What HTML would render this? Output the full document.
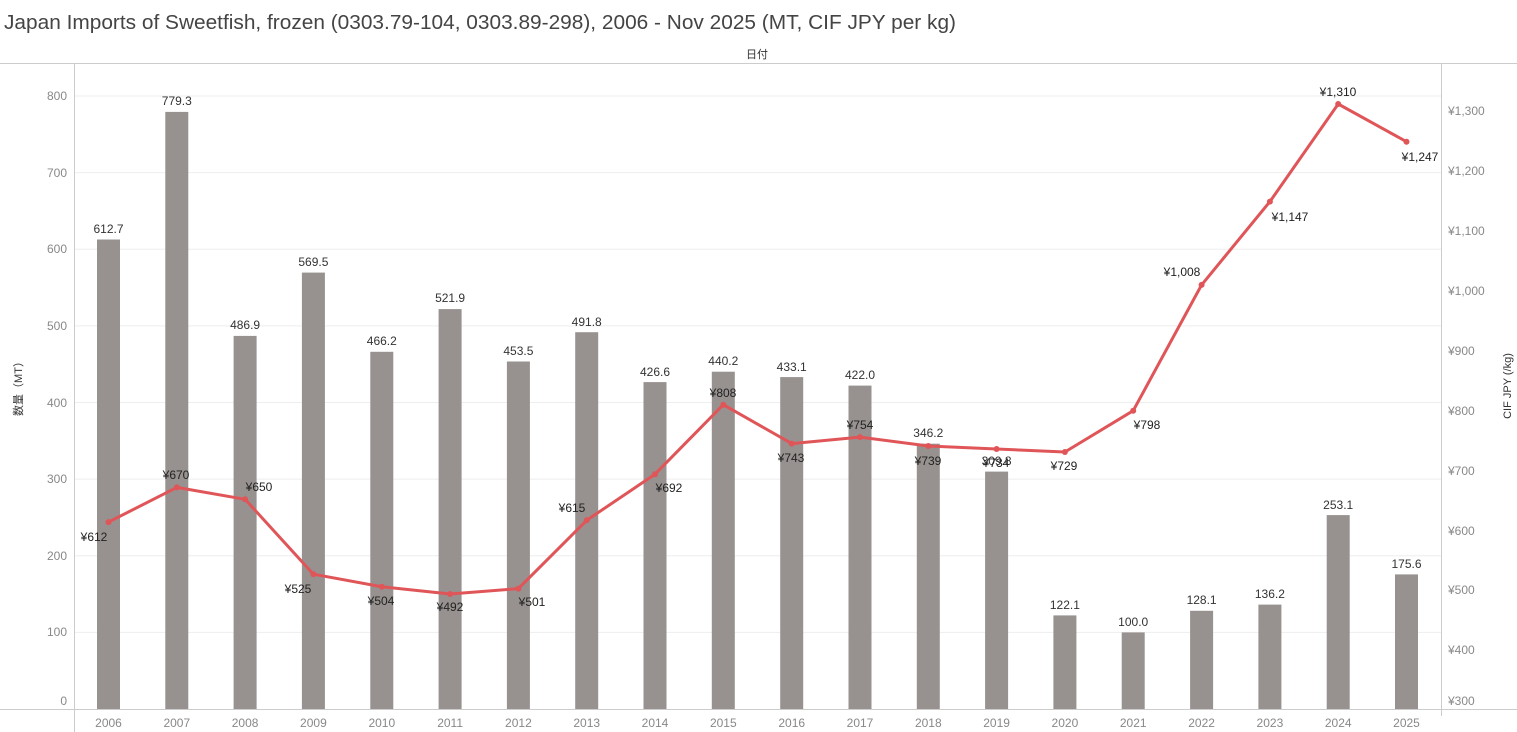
<!DOCTYPE html>
<html><head><meta charset="utf-8"><style>
body{margin:0;background:#fff;width:1517px;height:732px;overflow:hidden}
svg{display:block;font-family:"Liberation Sans","Noto Sans CJK JP",sans-serif}
.t{font-size:12px;fill:#888}
.b{font-size:12px;fill:#333;text-anchor:middle}
.p{font-size:12px;fill:#222;text-anchor:middle}
</style></head><body>
<svg width="1517" height="732" viewBox="0 0 1517 732">
<text x="4" y="29" textLength="952" lengthAdjust="spacingAndGlyphs" style="font-size:20px;fill:#444">Japan Imports of Sweetfish, frozen (0303.79-104, 0303.89-298), 2006 - Nov 2025 (MT, CIF JPY per kg)</text>
<text x="757" y="58" style="font-size:11px;fill:#333;text-anchor:middle">日付</text>
<line x1="0" y1="63.5" x2="1517" y2="63.5" stroke="#ccc"/>
<line x1="0" y1="709.5" x2="1517" y2="709.5" stroke="#ccc"/>
<line x1="74.5" y1="63" x2="74.5" y2="732" stroke="#ccc"/>
<line x1="1441.5" y1="63" x2="1441.5" y2="716" stroke="#ccc"/>
<g stroke="#eee">
<line x1="75" x2="1441" y1="96" y2="96"/><line x1="75" x2="1441" y1="172.6" y2="172.6"/>
<line x1="75" x2="1441" y1="249.3" y2="249.3"/><line x1="75" x2="1441" y1="325.9" y2="325.9"/>
<line x1="75" x2="1441" y1="402.5" y2="402.5"/><line x1="75" x2="1441" y1="479.1" y2="479.1"/>
<line x1="75" x2="1441" y1="555.8" y2="555.8"/><line x1="75" x2="1441" y1="632.4" y2="632.4"/>
</g>
<g class="t" text-anchor="end">
<text x="67" y="100">800</text><text x="67" y="177">700</text><text x="67" y="253">600</text>
<text x="67" y="330">500</text><text x="67" y="407">400</text><text x="67" y="483">300</text>
<text x="67" y="560">200</text><text x="67" y="636">100</text><text x="67" y="705">0</text>
</g>
<g class="t">
<text x="1448" y="115">¥1,300</text><text x="1448" y="175">¥1,200</text><text x="1448" y="235">¥1,100</text>
<text x="1448" y="295">¥1,000</text><text x="1448" y="355">¥900</text><text x="1448" y="415">¥800</text>
<text x="1448" y="475">¥700</text><text x="1448" y="535">¥600</text><text x="1448" y="594">¥500</text>
<text x="1448" y="654">¥400</text><text x="1448" y="705">¥300</text>
</g>
<text transform="translate(22,386) rotate(-90)" style="font-size:11px;fill:#333;text-anchor:middle">数量（MT）</text>
<text transform="translate(1511,386) rotate(-90)" style="font-size:11px;fill:#333;text-anchor:middle">CIF JPY (/kg)</text>
<g fill="#979290">
<rect x="97" y="239.5" width="23" height="469.5"/><rect x="165.3" y="111.9" width="23" height="597.1"/>
<rect x="233.6" y="335.9" width="23" height="373.1"/><rect x="301.9" y="272.6" width="23" height="436.4"/>
<rect x="370.3" y="351.8" width="23" height="357.2"/><rect x="438.6" y="309.1" width="23" height="399.9"/>
<rect x="506.9" y="361.5" width="23" height="347.5"/><rect x="575.2" y="332.2" width="23" height="376.8"/>
<rect x="643.5" y="382.1" width="23" height="326.9"/><rect x="711.8" y="371.7" width="23" height="337.3"/>
<rect x="780.2" y="377.1" width="23" height="331.9"/><rect x="848.5" y="385.6" width="23" height="323.4"/>
<rect x="916.8" y="443.7" width="23" height="265.3"/><rect x="985.1" y="471.6" width="23" height="237.4"/>
<rect x="1053.4" y="615.4" width="23" height="93.6"/><rect x="1121.7" y="632.4" width="23" height="76.6"/>
<rect x="1190.1" y="610.8" width="23" height="98.2"/><rect x="1258.4" y="604.6" width="23" height="104.4"/>
<rect x="1326.7" y="515.1" width="23" height="193.9"/><rect x="1395" y="574.4" width="23" height="134.6"/>
</g>
<g class="b">
<text x="108.5" y="233">612.7</text><text x="176.8" y="105">779.3</text><text x="245.1" y="329">486.9</text>
<text x="313.4" y="266">569.5</text><text x="381.8" y="345">466.2</text><text x="450.1" y="302">521.9</text>
<text x="518.4" y="355">453.5</text><text x="586.7" y="326">491.8</text><text x="655" y="376">426.6</text>
<text x="723.3" y="365">440.2</text><text x="791.7" y="371">433.1</text><text x="860" y="379">422.0</text>
<text x="928.3" y="437">346.2</text><text x="996.6" y="465">309.8</text><text x="1064.9" y="609">122.1</text>
<text x="1133.2" y="626">100.0</text><text x="1201.6" y="604">128.1</text><text x="1269.9" y="598">136.2</text>
<text x="1338.2" y="509">253.1</text><text x="1406.5" y="568">175.6</text>
</g>
<g class="t" text-anchor="middle">
<text x="108.5" y="727">2006</text><text x="176.8" y="727">2007</text><text x="245.1" y="727">2008</text>
<text x="313.4" y="727">2009</text><text x="381.8" y="727">2010</text><text x="450.1" y="727">2011</text>
<text x="518.4" y="727">2012</text><text x="586.7" y="727">2013</text><text x="655" y="727">2014</text>
<text x="723.3" y="727">2015</text><text x="791.7" y="727">2016</text><text x="860" y="727">2017</text>
<text x="928.3" y="727">2018</text><text x="996.6" y="727">2019</text><text x="1064.9" y="727">2020</text>
<text x="1133.2" y="727">2021</text><text x="1201.6" y="727">2022</text><text x="1269.9" y="727">2023</text>
<text x="1338.2" y="727">2024</text><text x="1406.5" y="727">2025</text>
</g>
<polyline fill="none" stroke="#e05558" stroke-width="3" stroke-linejoin="round" points="108.5,522.1 176.8,487.4 245.1,499.3 313.4,574.2 381.8,586.8 450.1,594 518.4,588.6 586.7,520.3 655,474.2 723.3,404.7 791.7,443.6 860,437.1 928.3,446 996.6,449 1064.9,452 1133.2,410.7 1201.6,284.9 1269.9,201.6 1338.2,104 1406.5,141.7"/>
<g fill="#e05558">
<circle cx="108.5" cy="522.1" r="3"/><circle cx="176.8" cy="487.4" r="3"/><circle cx="245.1" cy="499.3" r="3"/>
<circle cx="313.4" cy="574.2" r="3"/><circle cx="381.8" cy="586.8" r="3"/><circle cx="450.1" cy="594" r="3"/>
<circle cx="518.4" cy="588.6" r="3"/><circle cx="586.7" cy="520.3" r="3"/><circle cx="655" cy="474.2" r="3"/>
<circle cx="723.3" cy="404.7" r="3"/><circle cx="791.7" cy="443.6" r="3"/><circle cx="860" cy="437.1" r="3"/>
<circle cx="928.3" cy="446" r="3"/><circle cx="996.6" cy="449" r="3"/><circle cx="1064.9" cy="452" r="3"/>
<circle cx="1133.2" cy="410.7" r="3"/><circle cx="1201.6" cy="284.9" r="3"/><circle cx="1269.9" cy="201.6" r="3"/>
<circle cx="1338.2" cy="104" r="3"/><circle cx="1406.5" cy="141.7" r="3"/>
</g>
<g class="p">
<text x="94" y="541">¥612</text><text x="176" y="479">¥670</text><text x="259" y="491">¥650</text>
<text x="298" y="593">¥525</text><text x="381" y="605">¥504</text><text x="450" y="611">¥492</text>
<text x="532" y="606">¥501</text><text x="572" y="512">¥615</text><text x="669" y="492">¥692</text>
<text x="723" y="397">¥808</text><text x="791" y="462">¥743</text><text x="860" y="429">¥754</text>
<text x="928" y="465">¥739</text><text x="996" y="467">¥734</text><text x="1064" y="470">¥729</text>
<text x="1147" y="429">¥798</text><text x="1182" y="276">¥1,008</text><text x="1290" y="221">¥1,147</text>
<text x="1338" y="96">¥1,310</text><text x="1420" y="161">¥1,247</text>
</g>
</svg>
</body></html>
